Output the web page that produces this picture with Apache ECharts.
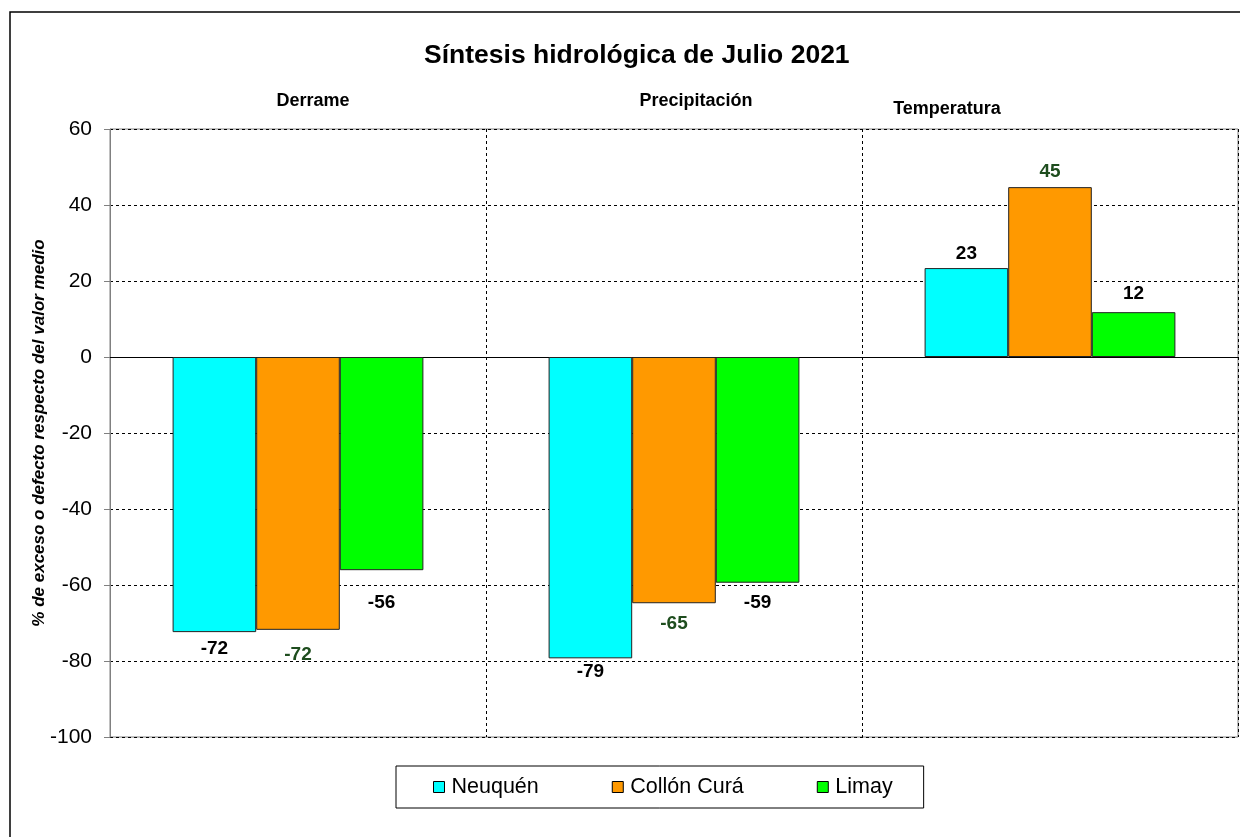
<!DOCTYPE html>
<html>
<head>
<meta charset="utf-8">
<script src="https://cdn.jsdelivr.net/npm/echarts@6/dist/echarts.min.js"></script>
<style>
html,body{margin:0;padding:0;background:#fff;}
#chart{width:1240px;height:837px;}
</style>
</head>
<body>
<div id="chart"></div>
<script>
// ---- data ----
const titleText = 'Síntesis hidrológica de Julio 2021';
const categories = ['Derrame', 'Precipitación', 'Temperatura'];
const seriesNames = ['Neuquén', 'Collón Curá', 'Limay'];
const neuquen = [-72.4, -79.3, 23.4];
const collonCura = [-71.8, -64.8, 44.7];
const limay = [-56.1, -59.4, 11.8];
const yTicks = [-100, -80, -60, -40, -20, 0, 20, 40, 60];
const yAxisTitle = '% de exceso o defecto respecto del valor medio';

// ---- styling / layout config ----
const colors = ['#00FFFF', '#FF9900', '#00FF00'];
const labelColors = ['#000000', '#1E4D1E', '#000000'];
const labelGaps = [[7, 4, 5], [15, 11, 6], [23, 11, 9]];
const catLabelPos = [[313, 101], [696, 101], [947, 109]];
const FONT = 'Liberation Sans, Arial, sans-serif';

const chart = echarts.init(document.getElementById('chart'), null, {renderer: 'canvas'});

const seriesData = [neuquen, collonCura, limay];
const series = seriesData.map((vals, si) => ({
  name: seriesNames[si],
  type: 'bar',
  barGap: '0%',
  barCategoryGap: '33.3%',
  itemStyle: {color: colors[si], borderColor: '#222', borderWidth: 1},
  data: vals.map((v, ci) => ({
    value: v,
    label: {distance: labelGaps[si][ci]}
  })),
  label: {
    show: true,
    position: 'outside',
    fontFamily: FONT,
    fontWeight: 'bold',
    fontSize: 19,
    color: labelColors[si],
    formatter: p => Math.round(p.value)
  }
}));

const option = {
  animation: false,
  backgroundColor: '#fff',
  textStyle: {fontFamily: FONT},
  title: {
    text: titleText,
    left: 419,
    top: 37,
    textStyle: {fontFamily: FONT, fontWeight: 'bold', fontSize: 26.5, color: '#000'}
  },
  grid: {left: 110, top: 129, right: 2, bottom: 100, show: true, borderColor: '#808080', borderWidth: 1},
  legend: {
    data: seriesNames,
    left: 396,
    top: 766,
    itemGap: 73,
    itemWidth: 11,
    itemHeight: 11,
    icon: 'rect',
    padding: [10, 31, 10, 37],
    borderColor: '#000',
    borderWidth: 1,
    textStyle: {fontFamily: FONT, fontSize: 21.5, color: '#000', padding: [0, 0, 0, 2]},
    itemStyle: {borderColor: '#000', borderWidth: 1}
  },
  xAxis: {
    type: 'category',
    data: categories,
    axisLine: {onZero: true, lineStyle: {color: '#000', width: 1}},
    axisTick: {show: false},
    axisLabel: {show: false},
    splitLine: {
      show: true,
      interval: 0,
      lineStyle: {color: '#000', type: [3, 3], width: 1}
    }
  },
  yAxis: {
    type: 'value',
    min: yTicks[0],
    max: yTicks[yTicks.length - 1],
    interval: 20,
    name: yAxisTitle,
    nameLocation: 'middle',
    nameRotate: 90,
    nameGap: 62,
    nameMoveOverlap: false,
    nameTextStyle: {fontFamily: FONT, fontWeight: 'bold', fontStyle: 'italic', fontSize: 17, color: '#000'},
    axisLine: {show: true, lineStyle: {color: '#808080', width: 1}},
    axisTick: {show: true, length: 6, lineStyle: {color: '#808080'}},
    axisLabel: {fontFamily: FONT, fontSize: 21, color: '#000', margin: 18},
    splitLine: {show: true, lineStyle: {color: '#000', type: [3, 3], width: 1}}
  },
  graphic: [
    {
      type: 'rect',
      shape: {x: 10, y: 12, width: 1300, height: 900},
      style: {fill: 'none', stroke: '#000', lineWidth: 1.5},
      silent: true, z: 100
    }
  ].concat(categories.map((c, i) => ({
    type: 'text',
    x: catLabelPos[i][0],
    y: catLabelPos[i][1],
    style: {text: c, fontFamily: FONT, fontWeight: 'bold', fontSize: 18, fill: '#000', textAlign: 'center', textVerticalAlign: 'middle'},
    z: 100
  }))),
  series: series
};

chart.setOption(option);
</script>
</body>
</html>
